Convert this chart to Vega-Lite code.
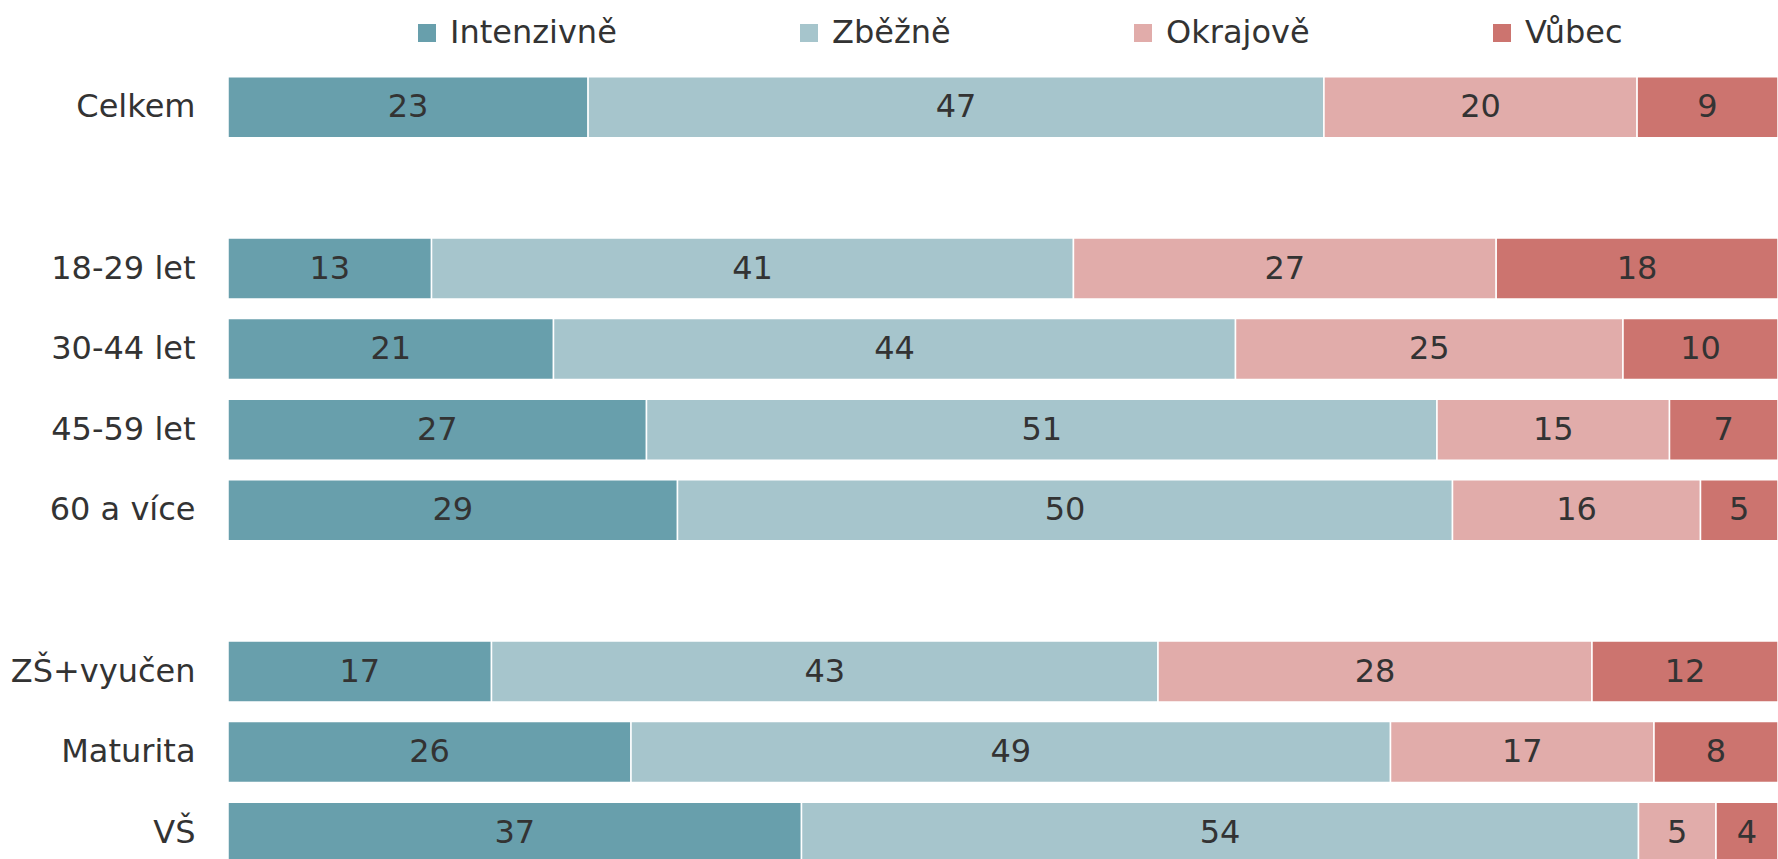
{
  "$schema": "https://vega.github.io/schema/vega-lite/v6.json",
  "width": 1550,
  "height": 806,
  "autosize": {"type": "none"},
  "padding": {"left": 228, "top": 67, "right": 0, "bottom": 0},
  "background": "white",
  "config": {"view": {"stroke": null}, "font": "DejaVu Sans"},
  "data": {
    "values": [
      {"skupina": "Celkem", "odpoved": "Intenzivně", "poradi": 1, "hodnota": 23},
      {"skupina": "Celkem", "odpoved": "Zběžně", "poradi": 2, "hodnota": 47},
      {"skupina": "Celkem", "odpoved": "Okrajově", "poradi": 3, "hodnota": 20},
      {"skupina": "Celkem", "odpoved": "Vůbec", "poradi": 4, "hodnota": 9},
      {"skupina": "18-29 let", "odpoved": "Intenzivně", "poradi": 1, "hodnota": 13},
      {"skupina": "18-29 let", "odpoved": "Zběžně", "poradi": 2, "hodnota": 41},
      {"skupina": "18-29 let", "odpoved": "Okrajově", "poradi": 3, "hodnota": 27},
      {"skupina": "18-29 let", "odpoved": "Vůbec", "poradi": 4, "hodnota": 18},
      {"skupina": "30-44 let", "odpoved": "Intenzivně", "poradi": 1, "hodnota": 21},
      {"skupina": "30-44 let", "odpoved": "Zběžně", "poradi": 2, "hodnota": 44},
      {"skupina": "30-44 let", "odpoved": "Okrajově", "poradi": 3, "hodnota": 25},
      {"skupina": "30-44 let", "odpoved": "Vůbec", "poradi": 4, "hodnota": 10},
      {"skupina": "45-59 let", "odpoved": "Intenzivně", "poradi": 1, "hodnota": 27},
      {"skupina": "45-59 let", "odpoved": "Zběžně", "poradi": 2, "hodnota": 51},
      {"skupina": "45-59 let", "odpoved": "Okrajově", "poradi": 3, "hodnota": 15},
      {"skupina": "45-59 let", "odpoved": "Vůbec", "poradi": 4, "hodnota": 7},
      {"skupina": "60 a více", "odpoved": "Intenzivně", "poradi": 1, "hodnota": 29},
      {"skupina": "60 a více", "odpoved": "Zběžně", "poradi": 2, "hodnota": 50},
      {"skupina": "60 a více", "odpoved": "Okrajově", "poradi": 3, "hodnota": 16},
      {"skupina": "60 a více", "odpoved": "Vůbec", "poradi": 4, "hodnota": 5},
      {"skupina": "ZŠ+vyučen", "odpoved": "Intenzivně", "poradi": 1, "hodnota": 17},
      {"skupina": "ZŠ+vyučen", "odpoved": "Zběžně", "poradi": 2, "hodnota": 43},
      {"skupina": "ZŠ+vyučen", "odpoved": "Okrajově", "poradi": 3, "hodnota": 28},
      {"skupina": "ZŠ+vyučen", "odpoved": "Vůbec", "poradi": 4, "hodnota": 12},
      {"skupina": "Maturita", "odpoved": "Intenzivně", "poradi": 1, "hodnota": 26},
      {"skupina": "Maturita", "odpoved": "Zběžně", "poradi": 2, "hodnota": 49},
      {"skupina": "Maturita", "odpoved": "Okrajově", "poradi": 3, "hodnota": 17},
      {"skupina": "Maturita", "odpoved": "Vůbec", "poradi": 4, "hodnota": 8},
      {"skupina": "VŠ", "odpoved": "Intenzivně", "poradi": 1, "hodnota": 37},
      {"skupina": "VŠ", "odpoved": "Zběžně", "poradi": 2, "hodnota": 54},
      {"skupina": "VŠ", "odpoved": "Okrajově", "poradi": 3, "hodnota": 5},
      {"skupina": "VŠ", "odpoved": "Vůbec", "poradi": 4, "hodnota": 4}
    ]
  },
  "encoding": {
    "y": {
      "field": "skupina",
      "type": "nominal",
      "scale": {
        "domain": ["Celkem", "g1", "18-29 let", "30-44 let", "45-59 let", "60 a více", "g2", "ZŠ+vyučen", "Maturita", "VŠ"],
        "paddingInner": 0.243,
        "paddingOuter": 0.1215
      },
      "axis": {
        "title": null,
        "domain": false,
        "ticks": false,
        "labelPadding": 33,
        "labelFontSize": 32,
        "labelColor": "#333333",
        "labelFont": "DejaVu Sans",
        "labelLimit": 400,
        "labelExpr": "datum.label == 'g1' || datum.label == 'g2' ? '' : datum.label"
      }
    },
    "order": {"field": "poradi", "type": "quantitative"}
  },
  "layer": [
    {
      "mark": {"type": "bar", "stroke": "white", "strokeWidth": 1.5},
      "encoding": {
        "x": {"field": "hodnota", "type": "quantitative", "stack": "normalize", "axis": null, "scale": {"nice": false}},
        "color": {
          "field": "odpoved",
          "type": "nominal",
          "scale": {
            "domain": ["Intenzivně", "Zběžně", "Okrajově", "Vůbec"],
            "range": ["#689FAC", "#A6C5CC", "#E1ACAA", "#CC746F"]
          },
          "legend": {
            "title": null,
            "orient": "none",
            "direction": "horizontal",
            "columns": 4,
            "gridAlign": "each",
            "columnPadding": 176,
            "legendX": 183,
            "legendY": -50,
            "symbolType": "square",
            "symbolSize": 324,
            "symbolStrokeWidth": 0,
            "labelFontSize": 32,
            "labelFont": "DejaVu Sans",
            "labelColor": "#333333",
            "labelOffset": 7,
            "labelLimit": 400
          }
        }
      }
    },
    {
      "mark": {"type": "text", "fontSize": 32, "font": "DejaVu Sans", "color": "#333333", "baseline": "middle", "align": "center"},
      "encoding": {
        "x": {"field": "hodnota", "type": "quantitative", "stack": "normalize", "bandPosition": 0.5},
        "detail": {"field": "odpoved", "type": "nominal"},
        "text": {"field": "hodnota", "type": "quantitative"}
      }
    }
  ]
}
